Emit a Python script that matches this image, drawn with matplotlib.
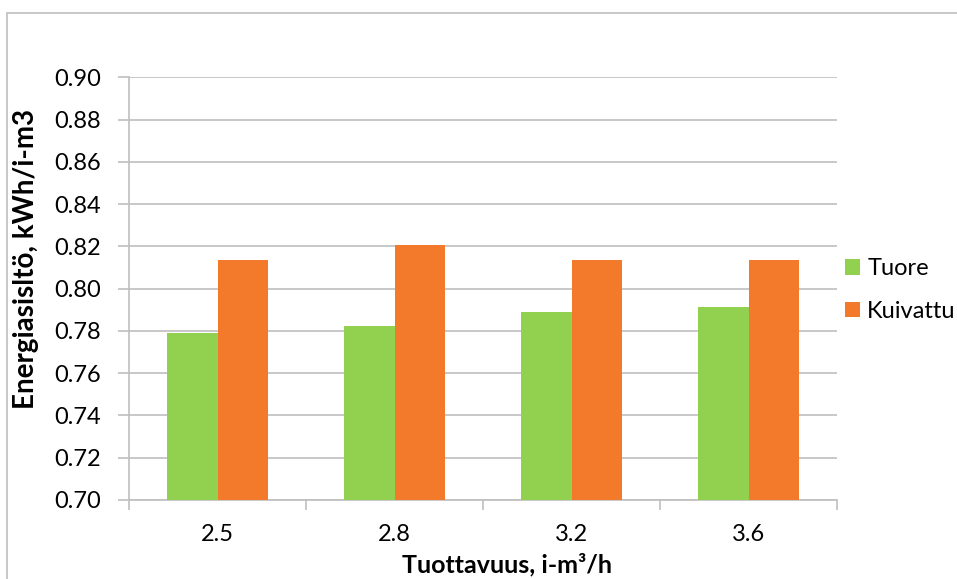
import matplotlib
matplotlib.use("Agg")
import matplotlib.pyplot as plt
import numpy as np
from matplotlib.patches import Rectangle

categories = ["2.5", "2.8", "3.2", "3.6"]
tuore = [0.779, 0.7825, 0.789, 0.7912]
kuivattu = [0.8135, 0.8205, 0.8135, 0.8135]
yticks = [0.70, 0.72, 0.74, 0.76, 0.78, 0.80, 0.82, 0.84, 0.86, 0.88, 0.90]

plt.rcParams['font.family'] = ['Lato', 'DejaVu Sans']

fig = plt.figure(figsize=(9.57, 5.79), dpi=100)
W, H = 957, 579
# outer chart border
fig.patches.append(Rectangle((7 / W, -0.1), 1.2, 1 - 13 / H + 0.1, transform=fig.transFigure,
                             fill=False, edgecolor='#BFBFBF', linewidth=1.2))

ax = fig.add_axes([129 / W, 1 - 500 / H, (837 - 129) / W, (500 - 77.3) / H])

x = np.arange(len(categories))
bw = 1 / 3.5
ax.bar(x - bw / 2, [v - 0.70 for v in tuore], bw, bottom=0.70, color='#92D050', label='Tuore', zorder=3)
ax.bar(x + bw / 2, [v - 0.70 for v in kuivattu], bw, bottom=0.70, color='#F47A2B', label='Kuivattu', zorder=3)

ax.set_xlim(-0.5, len(categories) - 0.5)
ax.set_ylim(0.70, 0.90)
ax.set_yticks(yticks)
ax.set_yticklabels([f"{v:.2f}" for v in yticks])
ax.yaxis.grid(True, color='#BFBFBF', linewidth=1.2, zorder=0)
ax.set_axisbelow(True)

ax.set_xticks(np.arange(-0.5, len(categories), 1.0))
ax.set_xticklabels([])
ax.set_xticks(x, minor=True)
ax.set_xticklabels(categories, minor=True)
ax.tick_params(axis='x', which='major', length=7, color='#BFBFBF', width=1.2, direction='out')
ax.tick_params(axis='x', which='minor', length=0, pad=17, labelsize=17)
ax.tick_params(axis='y', length=8, color='#BFBFBF', width=1.2, direction='out', labelsize=17, pad=12)

for s in ['top', 'right']:
    ax.spines[s].set_visible(False)
for s in ['left', 'bottom']:
    ax.spines[s].set_color('#BFBFBF')
    ax.spines[s].set_linewidth(1.2)

ax.set_xlabel("Tuottavuus, i-m³/h", fontsize=18, fontweight='bold')
ax.xaxis.label.set_va('center')
ax.xaxis.set_label_coords((507.5 - 129) / 708, (500 - 565) / 422.7)
ax.set_ylabel("Energiasisltö, kWh/i-m3", fontsize=20, fontweight='bold')
ax.yaxis.label.set_va('center')
ax.yaxis.set_label_coords((26 - 129) / 708, (500 - 259) / 422.7)

ax.legend(loc='center left', bbox_to_anchor=(845 / W, 1 - 290 / H), bbox_transform=fig.transFigure,
          frameon=False, fontsize=17, borderpad=0, borderaxespad=0,
          handlelength=0.64, handleheight=0.64, handletextpad=0.3, labelspacing=0.9)

fig.savefig("out.png", dpi=100)
